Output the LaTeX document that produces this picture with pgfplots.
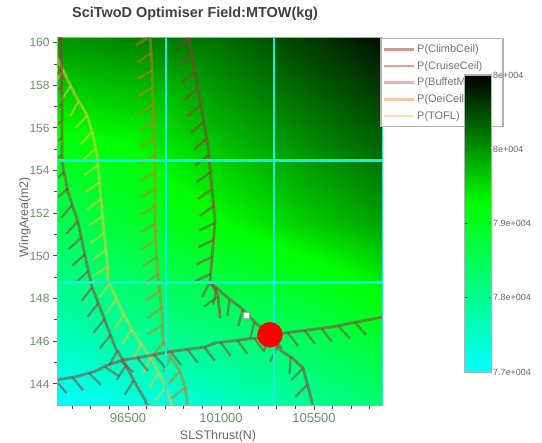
\documentclass[border=0pt]{standalone}
\usepackage{pgfplots}
\pgfplotsset{compat=1.18}
\usepackage{pgfplotstable}
\usepackage{fontspec}
\setmainfont{Liberation Sans}
\usetikzlibrary{decorations.pathreplacing}

\definecolor{gridcyan}{RGB}{25,235,225}
\definecolor{framecyan}{RGB}{40,228,228}
\definecolor{ticklab}{RGB}{105,145,105}
\definecolor{labgray}{RGB}{105,105,105}
\definecolor{darkc}{RGB}{150,55,55}
\definecolor{oliveC}{RGB}{200,120,40}
\definecolor{yellowC}{RGB}{230,200,60}
\definecolor{legA}{RGB}{215,150,150}
\definecolor{legB}{RGB}{240,150,150}
\definecolor{legC}{RGB}{248,170,170}
\definecolor{legD}{RGB}{250,195,165}
\definecolor{legE}{RGB}{250,225,175}
\definecolor{cbframe}{RGB}{170,180,180}

\pgfplotsset{
  colormap={cg}{rgb255(0cm)=(0,255,255); rgb255(5.7cm)=(0,255,0); rgb255(10cm)=(0,0,0)},
  base/.style={
    at={(58bp,38bp)}, anchor=south west,
    scale only axis, width=324bp, height=367bp,
    xmin=93113, xmax=108789, ymin=143.01, ymax=160.22,
    point meta min=77000, point meta max=81000,
  },
}

% MTOW field, triangles of a 3x3 grid
\pgfplotstableread{
x y c
93113 143.01 77000
100951 143.01 77490
100951 151.6 79280
93113 143.01 77000
100951 151.6 79280
93113 151.6 78560
100951 143.01 77490
108789 143.01 78300
108789 151.6 79920
100951 143.01 77490
108789 151.6 79920
100951 151.6 79280
93113 151.6 78560
100951 151.6 79280
100951 160.22 80260
93113 151.6 78560
100951 160.22 80260
93113 160.22 80000
100951 151.6 79280
108789 151.6 79920
108789 160.22 80900
100951 151.6 79280
108789 160.22 80900
100951 160.22 80260
}\fieldtable

\tikzset{
 constr/.style={draw=#1, draw opacity=0.55, line width=2.8bp, line join=round,
   postaction={draw=#1, draw opacity=0.55, line width=2.2bp, decorate,
     decoration={border, segment length=17bp, amplitude=17bp, angle=-60}}},
}

\begin{document}
\begin{tikzpicture}
\useasboundingbox (0,0) rectangle (542bp,443bp);
% ---------- axis 1: frame, ticks, labels, background field
\begin{axis}[base,
  xtick={96500,101000,105500},
  minor xtick={93800,94700,95600,97400,98300,99200,100100,101900,102800,103700,104600,106400,107300,108200},
  ytick={144,146,...,160},
  minor ytick={145,147,...,159},
  xtick pos=bottom, ytick pos=left,
  tick align=outside,
  major tick length=5bp, minor tick length=4bp,
  tick style={draw=black!70, line width=1bp},
  axis line style={draw=framecyan, line width=2.5bp},
  scaled x ticks=false, scaled y ticks=false,
  xticklabels={96500,101000,105500},
  yticklabels={144,146,148,150,152,154,156,158,160},
  xticklabel style={font=\fontsize{13}{13}\selectfont, text=ticklab},
  yticklabel style={font=\fontsize{12}{12}\selectfont, text=ticklab},
  title={SciTwoD Optimiser Field:MTOW(kg)},
  title style={at={(axis description cs:0.423,1.05)}, anchor=center, font=\bfseries\fontsize{14.5}{14.5}\selectfont, text=black!75},
  xlabel={SLSThrust(N)},
  xlabel style={at={(axis description cs:0.494,-0.085)}, anchor=center, font=\fontsize{12.5}{12.5}\selectfont, text=labgray},
  ylabel={WingArea(m2)},
  ylabel style={at={(axis description cs:-0.102,0.512)}, anchor=center, font=\fontsize{12.5}{12.5}\selectfont, text=labgray},
]
\addplot[patch, shader=interp, point meta=\thisrow{c}] table[x=x,y=y] {\fieldtable};
\end{axis}
% ---------- axis 2: constraint curves
\begin{axis}[base, hide axis]
\addplot[constr=darkc] coordinates {
(99451,160.22) (99887,157.78) (100370,155.20) (100709,151.59) (100467,148.78)
(101338,148.03) (101919,147.61) (102306,147.23) (102789,146.76) (103370,146.30)
(103854,145.59) (104434,145.22) (104967,144.75) (105160,144.05) (105402,143.16) (105450,142.80)};
\addplot[constr=darkc] coordinates {
(100467,148.78) (100854,148.18) (100951,147.09)};
\addplot[constr=oliveC] coordinates {
(97564,160.30) (97661,158.81) (97709,157.22) (97806,154.88) (97806,151.59) (97903,149.58)
(98145,147.33) (98193,146.06) (98435,145.45) (99016,144.59) (99258,143.86) (99354,143.25) (99380,142.80)};
\addplot[constr=yellowC] coordinates {
(93000,159.40) (93307,158.81) (93936,157.55) (94516,156.61) (94807,155.67) (95000,154.74)
(95145,153.19) (95290,151.59) (95484,149.81) (95532,148.87) (96113,147.61) (96694,146.53)
(97226,145.73) (97661,145.12) (98290,143.95) (98700,142.80)};
\addplot[constr=darkc] coordinates {
(93259,160.30) (93307,157.22) (93307,154.41) (93597,153.00) (94081,151.59) (94516,149.58)
(94758,148.55) (95242,147.33) (95871,145.73) (96258,145.12) (96839,144.05) (97322,143.25) (97500,142.80)};
\addplot[constr=darkc] coordinates {
(93000,144.18) (93936,144.33) (94903,144.59) (95532,144.89) (96258,145.12) (97177,145.26)
(98435,145.50) (100225,145.73) (100709,145.92) (102789,146.16) (104096,146.39) (105208,146.53)
(106370,146.67) (107483,146.89) (108900,147.15)};
\end{axis}
% ---------- axis 3: grid, points, legend, colour bar
\begin{axis}[base, hide axis,
  colorbar,
  colorbar/width=27bp,
  colorbar style={
    at={(parent axis.north east)}, anchor=north west, xshift=74bp, yshift=-37bp,
    width=27bp, height=297bp, scale only axis,
    scaled y ticks=false,
    ytick={77000,78000,79000,80000,81000},
    yticklabels={7.7e+004,7.8e+004,7.9e+004,8e+004,8e+004},
    yticklabel style={font=\fontsize{9}{9}\selectfont, text=black!60, inner xsep=1.5bp},
    axis line style={draw=cbframe, line width=1.5bp},
    major tick length=3bp, tick style={draw=black!70, line width=0.8bp},
  },
  legend image code/.code={\draw[#1] (0bp,0bp) -- (30bp,0bp);},
  legend style={at={(1,1)}, anchor=north west, xshift=-2bp, draw=black!30, line width=1.5bp, fill=white,
    font=\fontsize{11}{13}\selectfont, text=black!55, inner xsep=2bp, inner ysep=4bp, row sep=3.2bp},
  legend cell align=left,
]
\addplot[draw=gridcyan, line width=2.8bp, forget plot] coordinates {(98338,143.01) (98338,160.22)};
\addplot[draw=gridcyan, line width=2.8bp, forget plot] coordinates {(103564,143.01) (103564,160.22)};
\addplot[draw=gridcyan, line width=2.8bp, forget plot] coordinates {(93113,148.75) (108789,148.75)};
\addplot[draw=gridcyan, line width=2.8bp, forget plot] coordinates {(93113,154.48) (108789,154.48)};
\addplot[only marks, mark=*, mark size=12.5bp, mark options={fill=red, draw=red}, forget plot] coordinates {(103370,146.30)};
\addplot[only marks, mark=square*, mark size=3bp, mark options={fill=white, draw=black!35, line width=0.6bp}, forget plot] coordinates {(102209,147.23)};
\addlegendimage{legA, line width=2.5bp}
\addlegendentry{\makebox[82bp][l]{P(ClimbCeil)}}
\addlegendimage{legB, line width=2.5bp}
\addlegendentry{\makebox[82bp][l]{P(CruiseCeil)}}
\addlegendimage{legC, line width=2.5bp}
\addlegendentry{\makebox[82bp][l]{P(BuffetM)}}
\addlegendimage{legD, line width=2.5bp}
\addlegendentry{\makebox[82bp][l]{P(OeiCeil)}}
\addlegendimage{legE, line width=2.5bp}
\addlegendentry{\makebox[82bp][l]{P(TOFL)}}
\end{axis}
\end{tikzpicture}
\end{document}
